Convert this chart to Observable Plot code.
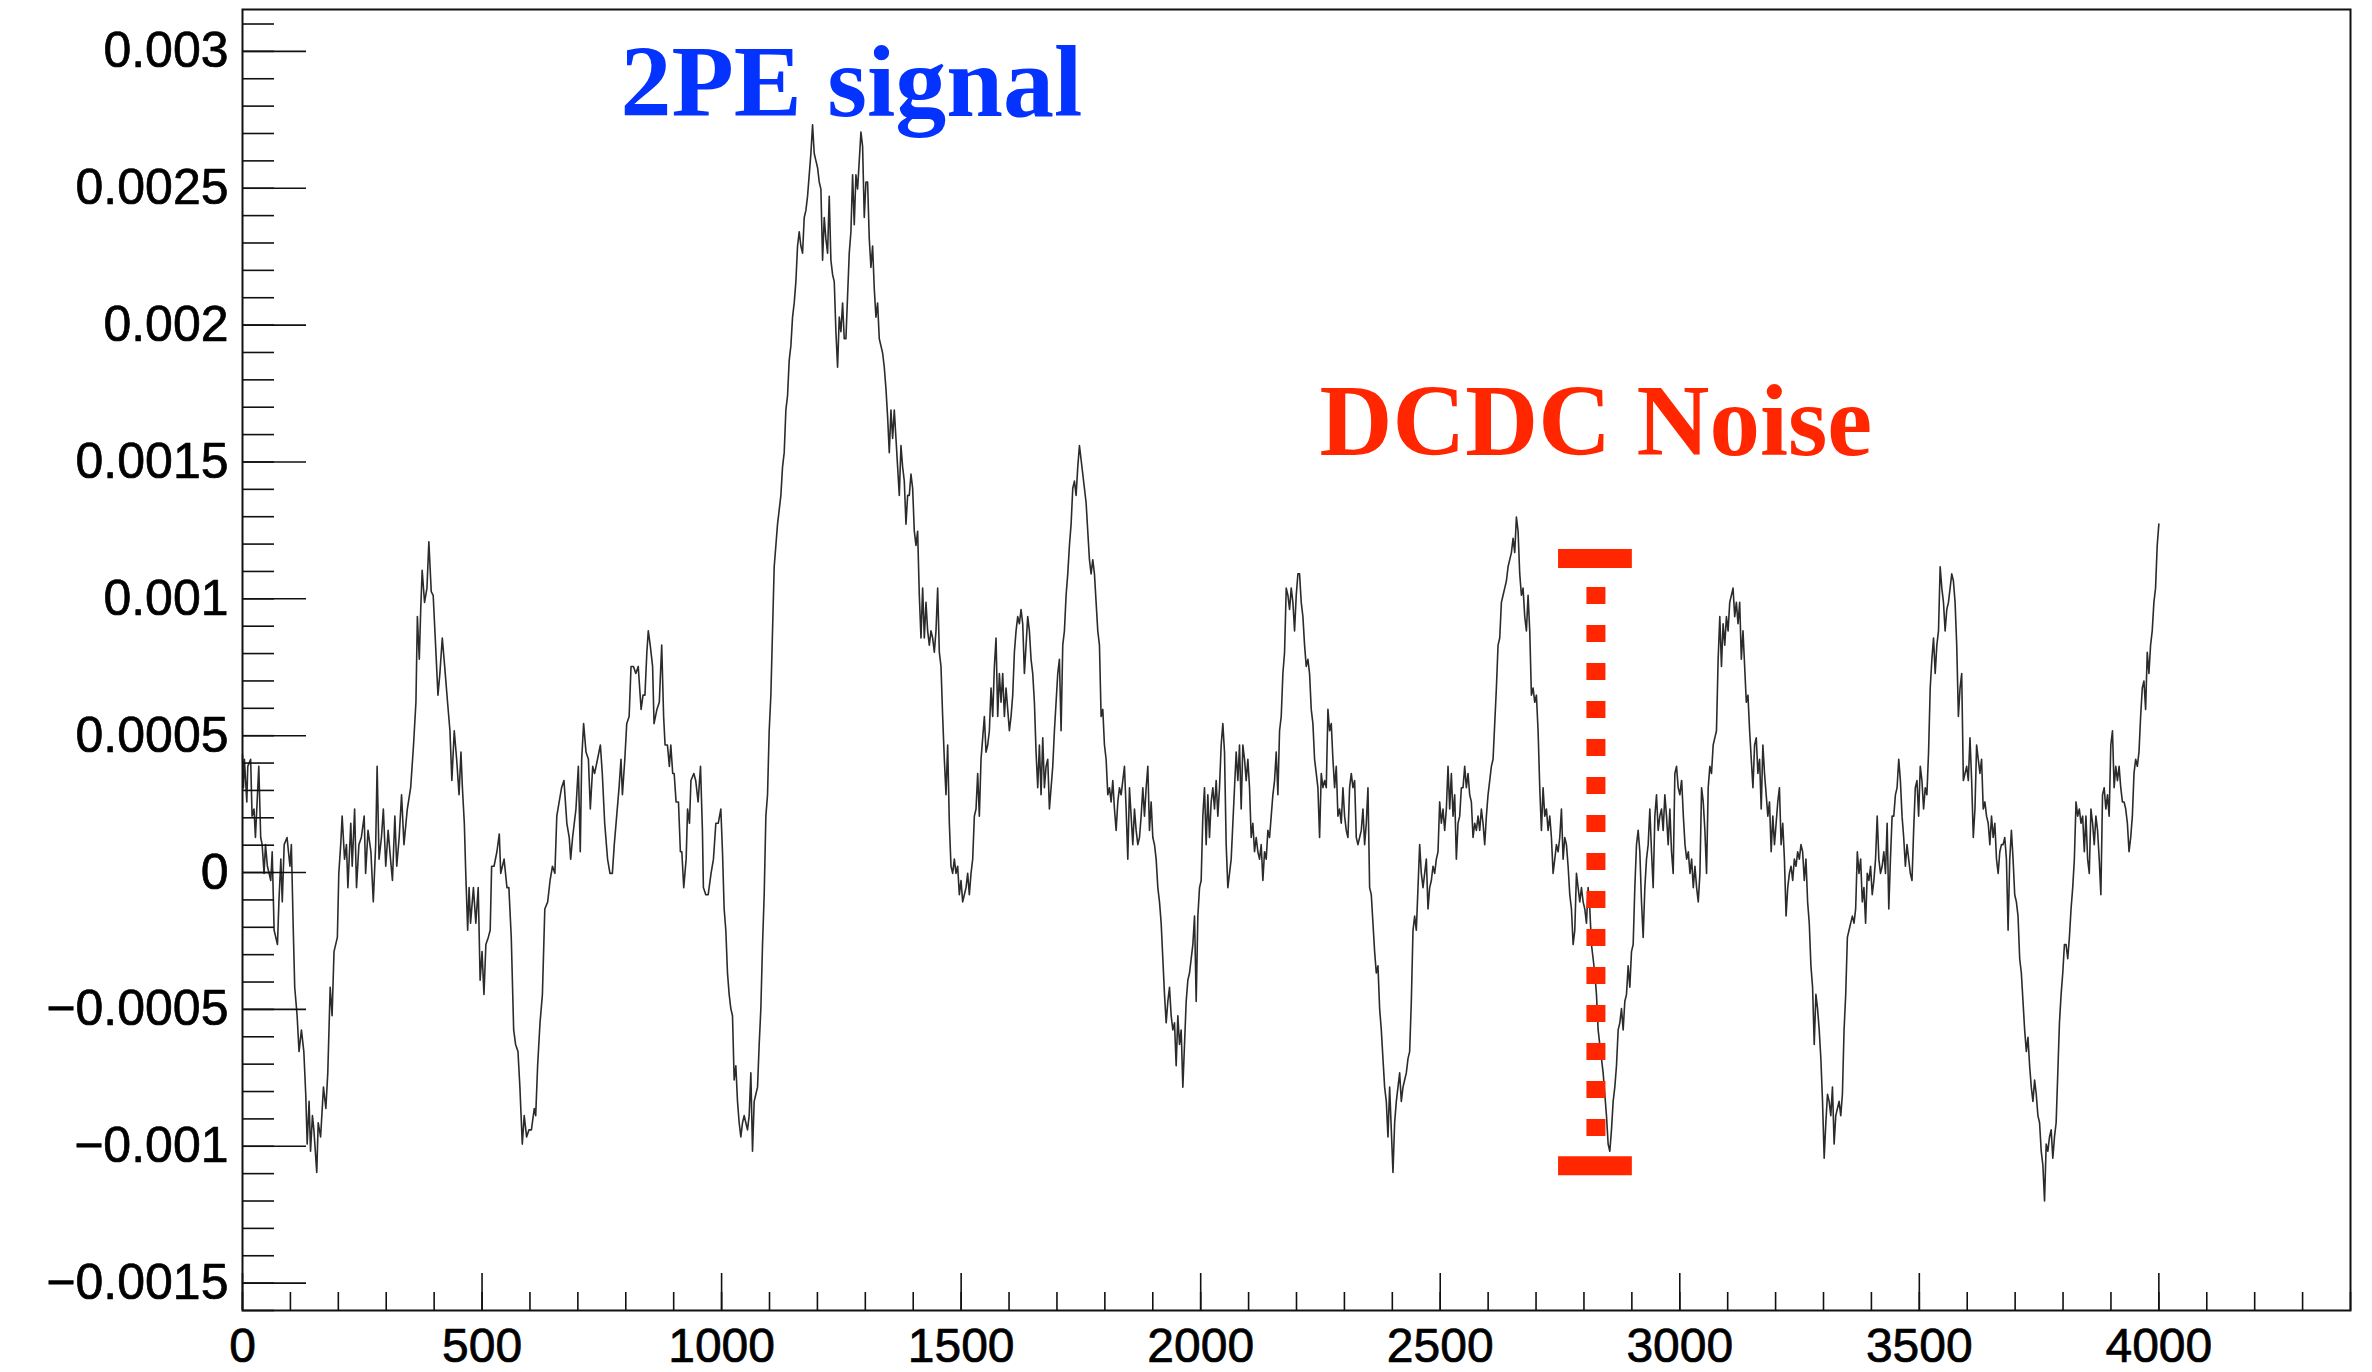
<!DOCTYPE html>
<html>
<head>
<meta charset="utf-8">
<script src="https://cdn.jsdelivr.net/npm/d3@7"></script>
<script src="https://cdn.jsdelivr.net/npm/@observablehq/plot@0.6"></script>
<style>
  html, body { margin: 0; padding: 0; background: #fff; }
  #chart { width: 2372px; height: 1372px; }
</style>
</head>
<body>
<div id="chart"></div>
<script>
// Waveform amplitude in micro-units (value × 1e-6).
// First stretch: [sample, amplitude] pairs.
const traceA = [[0,430],[2,310],[4,414],[9,258],[11,388],[17,414],[20,206],[24,232],[27,128],[34,388],[38,128],[41,102],[45,-3],[48,102],[52,23],[59,-29],[62,76],[66,-211],[73,-263],[76,-107],[80,49],[83,-107],[87,102],[93,128],[99,23],[102,102],[106,-211],[109,-419],[114,-523],[118,-654],[123,-575],[128,-654],[132,-810],[135,-992],[139,-836],[142,-1018],[146,-888],[149,-940],[155,-1096],[158,-914],[163,-966],[169,-784],[174,-862],[178,-732],[183,-419],[187,-523],[191,-289],[198,-237],[201,-3],[205,102],[208,206],[213,49],[217,102],[220,-55],[226,180],[229,23],[234,232],[238,-55],[243,102],[248,128],[254,206],[257,-3],[262,154],[268,76],[273,-107],[278,102],[281,388],[285,49],[290,128],[294,232],[299,23],[304,154],[309,49],[313,-29],[318,206],[322,23],[327,128],[332,284],[337,102],[344,232],[351,310],[357,466],[362,622],[365,935],[369,779],[372,961],[375,1104],[380,987],[385,1039],[389,1208],[394,1026],[398,1013],[403,831],[408,648],[412,727],[417,857],[422,753],[428,622],[433,518],[437,336],[442,518],[447,414],[452,284],[456,440],[459,310],[463,180],[466,-3],[470,-211],[473,-55],[476,-185],[482,-55],[487,-185],[492,-55],[496,-393],[500,-289],[504,-445],[508,-263],[513,-237],[517,-211],[520,23],[525,23],[531,76],[536,141],[539,-3],[546,49],[552,-55],[556,-55],[561,-237],[566,-575],[570,-628],[575,-654],[579,-784],[584,-992],[588,-888],[593,-966],[598,-940],[603,-940],[609,-862],[612,-888],[616,-706],[621,-549],[626,-445],[631,-133],[637,-107],[642,-29],[647,23],[652,-3],[656,206],[661,258],[666,310],[671,336],[677,180],[682,128],[685,49],[689,128],[696,232],[701,388],[705,76],[708,414],[712,544],[717,440],[722,414],[726,232],[731,388],[735,362],[741,414],[747,466],[751,362],[756,180],[762,49],[767,-3],[772,-3],[776,102],[781,206],[786,310],[790,414],[793,284],[798,414],[802,544],[807,570],[811,753],[816,753],[821,727],[826,753],[832,596],[836,648],[840,648],[844,805],[847,883],[851,831],[856,753],[859,544],[865,596],[870,622],[875,831],[879,570],[882,466],[887,466],[891,388],[894,466],[898,362],[901,362],[905,258],[910,258],[914,76],[917,76],[921,-55],[926,49],[929,232],[933,180],[936,336],[942,362],[946,336],[951,258],[956,388],[960,154],[962,-55],[967,-81],[972,-81],[978,-3],[983,49],[988,180],[993,180]];

// Remaining stretches: evenly spaced samples, one value per step.
const ampB = [232,76,-133,-211,-367,-445,-497,-523,-758,-706,-836,-914,-966,-914,-888,-914,-940,-888,-732,-1018,-836,-810,-784,-628,-497,-263,-81,206,284,518,648,883,1117,1195,1273,1325,1378,1482,1534,1690,1742,1872,1924,2029,2081,2159,2289,2341,2289,2263,2393,2419,2471,2549,2627,2732,2627,2601,2575,2523,2497,2237,2393,2315,2263,2471,2237,2185,2159,1976,1846,2029,1976,2081,1950,1950,2107,2263,2341,2549,2367,2549,2497,2601,2705,2653,2393,2523,2523,2315,2211,2289,2133,2029,2081,1950,1924,1898,1846,1768,1664,1534,1690,1586,1690,1586,1482,1378,1560,1482,1430,1273,1378,1378,1456,1404,1247,1195,1247,1013,857,1039,857,987,883,831,883,857,805,883,1039,805,753,570,414,284,466,180,23,-3,49,-3,23,-81,-29,-107,-81,-55,-3,-81,-3,49,206,232,362,206,414,492,570,440,466,518,674,570,753,857,570,727,622,727,570,674,596,518,570,648,805,883,935,909,961,909,727,831,935,883,779,727,622,440,310,466,284,492,310,388,414,232,310,388,518,622,727,779,518,831,883,1013,1091,1195,1273,1404,1430,1378,1482,1560,1508,1456,1404,1351,1247,1143,1091,1143,1091,987,883,831,570,596,466,414,284,310,258,336,232,154,258,310,284,336,388,232,49,310,206,102,232,154,102,128,206,310,206,310,388,154,258,128,102,49,-55,-107,-185,-315,-445,-549,-471,-419,-523,-575,-549,-706,-523,-628,-575,-784,-628,-471,-393,-367,-315,-263,-159,-471,-159,-55,-29];
const ampC = [-29,206,310,102,284,128,258,310,232,336,206,310,466,544,440,102,-55,-3,49,180,310,440,336,466,232,466,414,336,414,310,128,180,76,128,76,49,102,-29,76,49,154,128,206,284,336,440,284,518,570,727,805,1039,1013,961,1039,987,883,1013,1091,1091,987,935,831,753,779,727,596,544,414,362,310,128,362,310,336,310,596,518,544,414,310,388,206,232,180,310,206,154,128,310,362,310,336,128,102,128,154,232,102,180,310,-55,-81,-185,-289,-367,-341,-497,-575,-680,-784,-836,-966,-784,-940,-1096,-914,-836,-784,-732,-836,-784,-758,-732,-680,-654,-471,-211,-159,-211,-55,102,-3,-55,-3,49,-133,-55,-29,23,-3,49,76,258,180,232,154,232,388,232,362,206,284,49,180,206,310,310,388,310,362,284,258,128,180,154,206,154,232,180,102,206,284,336,388,414,544,674,831,857,987,1013,1039,1065,1117,1143,1169,1221,1169,1299,1247,1091,1013,1039,935,883,1013,883,648,674,622,648,518,310,154,310,206,232,154,206,128,-3,49,102,76,128,232,49,128,102,23,-81,-133,-263,-211,-3,-55,-107,-55,-107,-133,-185,-55,-133,-263,-315,-367,-445,-575,-628,-680,-732,-810,-888,-992,-1018,-940,-836,-784,-706,-575,-549,-497,-575,-471,-445,-341,-419,-289,-263,-55,102,154,76,-107,-237,-55,49,102,232,76,-55,206,284,154,206,232,154,284,206,102,232,76,-3,362,388,310,284,336];
const ampD = [336,206,102,49,76,-3,49,-55,23,-55,-107,-3,310,258,154,-3,310,388,362,466,492,518,779,935,753,909,831,935,883,987,1013,1039,935,987,909,987,779,883,753,622,648,518,414,310,466,492,362,414,232,466,362,284,206,258,76,206,102,180,258,310,102,180,49,-159,-55,-3,23,-29,49,23,76,49,102,76,-29,49,-107,-185,-341,-419,-628,-445,-497,-575,-680,-836,-1044,-914,-810,-836,-888,-784,-992,-888,-862,-836,-888,-810,-575,-445,-237,-211,-185,-159,-185,-133,76,-3,49,-107,-55,-185,-3,-29,23,-81,-29,49,206,49,-3,23,76,-3,180,-133,49,206,206,284,310,414,336,206,128,23,102,49,-3,-29,154,310,336,206,388,336,232,310,284,440,674,779,857,727,831,883,1117,1039,987,883,961,987,1039,1091,1065,987,831,570,674,727,336,362,388,336,492,336,128,232,466,414,362,414,232,258,206,180,102,206,128,180,49,-3,76,102,102,128,49,-211,49,154,49,-81,-107,-159,-315,-367,-471,-575,-654,-602,-706,-784,-836,-758,-810,-888,-914,-1018,-1070,-1200,-992,-1018,-966,-940,-1044,-966,-914,-732,-549,-445,-367,-263,-263,-315,-237,-133,-55,49,258,206,232,180,206,76,206,49,-3,232,180,102,206,154,49,-81,284,310,232,284,206,466,518,310,388,336,388,310,258,258,232,180,76,128,206,362,414,388,440,570,674,700,596,805,727,831,883,987,1039,1195,1273];
const segStart = [998.4, 2001, 3004];
const segStep = [3.4815, 3.4815, 3.4583];
const MICRO = 1e-6;

// Axis ticks
const xMajor = [0, 500, 1000, 1500, 2000, 2500, 3000, 3500, 4000];
const yMajor = [-0.0015, -0.001, -0.0005, 0, 0.0005, 0.001, 0.0015, 0.002, 0.0025, 0.003];
const xMinor = d3.range(0, 4401, 100);
const yMinor = d3.range(-16, 32).map(i => i / 10000);

// Annotations
const signalLabel = ["2PE signal"];
const signalPos = [789, 0.002765];
const noiseLabel = ["DCDC Noise"];
const noisePos = [2248, 0.001524];
const noiseSample = [2825];
const noiseSpan = [2747, 2901];
const noiseLevels = [0.001147, -0.001071];

const wave = [
  ...traceA.map(([t, a]) => ({t, v: a * MICRO})),
  ...[ampB, ampC, ampD].flatMap((amps, k) =>
    amps.map((a, i) => ({t: segStart[k] + i * segStep[k], v: a * MICRO})))
];

const W = 2372, H = 1372;
const mL = 242, mR = 22, mT = 9, mB = 62;
const plotW = W - mL - mR, plotH = H - mT - mB;
const RED = "#ff2600", BLUE = "#0433ff", INK = "#111";
const fmtY = d => d === 0 ? "0" : (d < 0 ? "\u2212" : "") + String(+Math.abs(d).toFixed(4));
const serif = "'Liberation Serif', 'Times New Roman', Times, serif";

const chart = Plot.plot({
  width: W,
  height: H,
  marginLeft: mL,
  marginRight: mR,
  marginTop: mT,
  marginBottom: mB,
  x: {domain: [0, 4400], axis: null},
  y: {domain: [-0.0016, 0.003153], axis: null},
  style: {fontFamily: "'Liberation Sans', Arial, Helvetica, sans-serif", background: "#fff", color: "#000"},
  marks: [
    Plot.line(wave, {x: "t", y: "v", stroke: "#2b2b2b", strokeWidth: 1.6}),
    // inward tick marks
    Plot.tickY(yMinor, {y: d => d, stroke: INK, strokeWidth: 1.6, insetRight: plotW - 32}),
    Plot.tickY(yMajor, {y: d => d, stroke: INK, strokeWidth: 1.6, insetRight: plotW - 64}),
    Plot.tickX(xMinor, {x: d => d, stroke: INK, strokeWidth: 1.6, insetTop: plotH - 18}),
    Plot.tickX(xMajor, {x: d => d, stroke: INK, strokeWidth: 1.6, insetTop: plotH - 37}),
    Plot.axisY(yMajor, {anchor: "left", tickSize: 0, tickPadding: 14, fontSize: 50, tickFormat: fmtY, label: null,
      textStroke: "#000", textStrokeWidth: 0.7}),
    Plot.axisX(xMajor, {anchor: "bottom", tickSize: 0, tickPadding: 17, fontSize: 48, tickFormat: d => String(d), label: null,
      textStroke: "#000", textStrokeWidth: 0.7}),
    Plot.frame({stroke: INK, strokeWidth: 2}),
    // noise amplitude marker
    Plot.ruleX(noiseSample, {x: d => d, y1: () => noiseLevels[0], y2: () => noiseLevels[1],
      stroke: RED, strokeWidth: 19, strokeDasharray: "17,21", strokeDashoffset: 9}),
    Plot.ruleY(noiseLevels, {y: d => d, x1: () => noiseSpan[0], x2: () => noiseSpan[1],
      stroke: RED, strokeWidth: 19}),
    Plot.text(signalLabel, {x: () => signalPos[0], y: () => signalPos[1], text: d => d,
      textAnchor: "start", lineAnchor: "bottom", fontSize: 102, fontWeight: "bold",
      fontFamily: serif, fill: BLUE}),
    Plot.text(noiseLabel, {x: () => noisePos[0], y: () => noisePos[1], text: d => d,
      textAnchor: "start", lineAnchor: "bottom", fontSize: 101, fontWeight: "bold",
      fontFamily: serif, fill: RED})
  ]
});

document.getElementById("chart").appendChild(chart);
</script>
</body>
</html>
